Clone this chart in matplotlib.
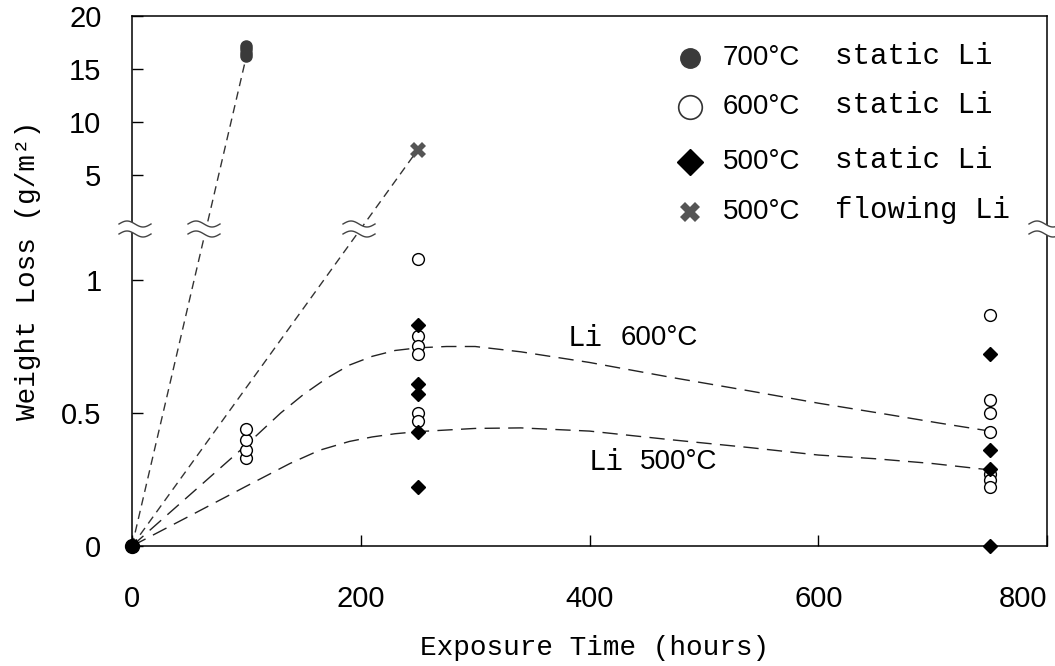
import numpy as np
import matplotlib.pyplot as plt
from matplotlib.patches import Polygon

# data: exposure time (h), weight loss (g/m2)
t700 = [100, 100, 100, 100]
w700 = [16.2, 16.5, 16.9, 17.2]

t600 = [100, 100, 100, 100,
        250, 250, 250, 250, 250, 250,
        750, 750, 750, 750, 750, 750, 750]
w600 = [0.33, 0.36, 0.40, 0.44,
        1.08, 0.79, 0.75, 0.72, 0.50, 0.47,
        0.87, 0.55, 0.50, 0.43, 0.27, 0.25, 0.22]

t500 = [0, 250, 250, 250, 250, 250, 750, 750, 750, 750]
w500 = [0, 0.83, 0.61, 0.57, 0.43, 0.22, 0.72, 0.36, 0.29, 0.0]

t_flow = [250]
w_flow = [7.4]

# fitted trend curves
c600_t = [0, 50, 100, 130, 150, 170, 190, 210, 230, 250, 275, 300, 340,
          400, 470, 540, 600, 660, 706, 750]
c600_w = [0, 0.19, 0.38, 0.50, 0.57, 0.63, 0.68, 0.713, 0.735, 0.745, 0.75, 0.75, 0.73,
          0.69, 0.635, 0.583, 0.537, 0.495, 0.462, 0.432]
c500_t = [0, 50, 100, 138, 164, 190, 210, 230, 250, 300, 340,
          400, 470, 540, 600, 650, 700, 750]
c500_w = [0, 0.112, 0.225, 0.31, 0.36, 0.393, 0.41, 0.422, 0.43, 0.442, 0.444,
          0.432, 0.40, 0.37, 0.342, 0.328, 0.31, 0.286]

# straight lines from origin to the high points
l700_t = [0, 100]
l700_w = [0, 16.2]
lflow_t = [0, 250]
lflow_w = [0, 7.4]

yticks = [0, 0.5, 1, 5, 10, 15, 20]
ytick_labels = ['0', '0.5', '1', '5', '10', '15', '20']
xticks = [0, 200, 400, 600, 800]

# broken y axis: lower part 0..1.19, upper part 0..20 compressed
YB = 1.19
LO = 266.0
UP0, UP = 318.0, 10.6


def fwd(y):
    y = np.asarray(y, dtype=float)
    return np.where(y <= YB, LO * y, UP0 + UP * y)


def inv(u):
    u = np.asarray(u, dtype=float)
    return np.where(u <= LO * YB, u / LO,
                    np.where(u >= UP0 + UP * YB, (u - UP0) / UP, YB))


mono = 'Liberation Mono'
sans = 'Liberation Sans'

fig = plt.figure(figsize=(10.55, 6.66), dpi=100)
ax = fig.add_axes([132 / 1055, 120 / 666, 915 / 1055, 530 / 666])
ax.set_yscale('function', functions=(fwd, inv))

ax.plot(l700_t, l700_w, color='#333333', lw=1.0, linestyle=(0, (6, 4)))
ax.plot(lflow_t, lflow_w, color='#333333', lw=1.0, linestyle=(0, (6, 4)))
ax.plot(c600_t, c600_w, color='#222222', lw=1.0, linestyle=(0, (11, 6)))
ax.plot(c500_t, c500_w, color='#222222', lw=1.0, linestyle=(0, (11, 6)))

ax.plot(t600, w600, 'o', ms=8.5, mfc='white', mec='black', mew=1.0, zorder=5, clip_on=False)
ax.plot(t500, w500, 'D', ms=7.5, color='black', zorder=6, clip_on=False)
ax.plot(t700, w700, 'o', ms=8, color='#3a3a3a', zorder=6, clip_on=False)
ax.plot([0], [0], 'o', ms=10, color='black', zorder=7, clip_on=False)
ax.plot(t_flow, w_flow, 'X', ms=11, color='#555555', mew=0, zorder=6, clip_on=False)

ax.set_xlim(0, 800)
ax.set_ylim(0, 20)
ax.set_yticks(yticks)
ax.set_yticklabels(ytick_labels)
ax.yaxis.set_minor_locator(plt.NullLocator())
ax.set_xticks(xticks)
ax.set_xticklabels([str(v) for v in xticks])
ax.get_xticklabels()[-1].set_horizontalalignment('right')

ax.tick_params(axis='both', direction='in', length=8, width=1.0,
               labelsize=21, top=False, right=False)
ax.tick_params(axis='x', pad=28)
ax.tick_params(axis='y', pad=22)
for lab in ax.get_xticklabels() + ax.get_yticklabels():
    lab.set_family(sans)
for sp in ax.spines.values():
    sp.set_linewidth(1.1)

# curve labels
ax.text(381, 0.782, 'Li', family=mono, fontsize=21, va='center')
ax.text(427, 0.782, '600°C', family=sans, fontsize=20, va='center')
ax.text(399, 0.316, 'Li', family=mono, fontsize=21, va='center')
ax.text(444, 0.316, '500°C', family=sans, fontsize=20, va='center')

# break marks (pixel positions of the axis break)
ybrk = (546 - 229) / 530
for px in [135, 204, 359, 1045]:
    xc = (px - 132) / 915
    s = np.linspace(-1, 1, 41)
    xs = xc + s * 16 / 915
    wave = -3.0 / 530 * np.sin(np.pi * s)
    y1 = ybrk + 5 / 530 + wave
    y2 = ybrk - 5 / 530 + wave
    poly = np.column_stack([np.r_[xs, xs[::-1]], np.r_[y1, y2[::-1]]])
    ax.add_patch(Polygon(poly, closed=True, transform=ax.transAxes,
                         facecolor='white', edgecolor='none', zorder=8, clip_on=False))
    ax.plot(xs, y1, color='#444444', lw=1.0, transform=ax.transAxes, clip_on=False, zorder=9)
    ax.plot(xs, y2, color='#444444', lw=1.0, transform=ax.transAxes, clip_on=False, zorder=9)

# legend drawn by hand
rows = [58, 107, 162, 212]
mx = (690 - 132) / 915
styles = [dict(marker='o', ms=14, color='#3a3a3a'),
          dict(marker='o', ms=17, mfc='white', mec='#333333', mew=1.2),
          dict(marker='D', ms=13, color='black'),
          dict(marker='X', ms=15, color='#555555', mew=0)]
temps = ['700°C', '600°C', '500°C', '500°C']
kinds = ['static Li', 'static Li', 'static Li', 'flowing Li']
for r, st, tp, kd in zip(rows, styles, temps, kinds):
    ax.plot([mx], [(546 - r) / 530], linestyle='none', transform=ax.transAxes,
            clip_on=False, **st)
    fig.text(723 / 1055, 1 - r / 666, tp, family=sans, fontsize=20, va='center')
    fig.text(835 / 1055, 1 - (r - 2) / 666, kd, family=mono, fontsize=21, va='center')

fig.text(595 / 1055, 1 - 648 / 666, 'Exposure Time (hours)', family=mono,
         fontsize=20, ha='center', va='center')
fig.text(28 / 1055, 1 - 270 / 666, 'Weight Loss (g/m²)', family=mono,
         fontsize=20, ha='center', va='center', rotation=90)

fig.savefig('out.png', dpi=100)
